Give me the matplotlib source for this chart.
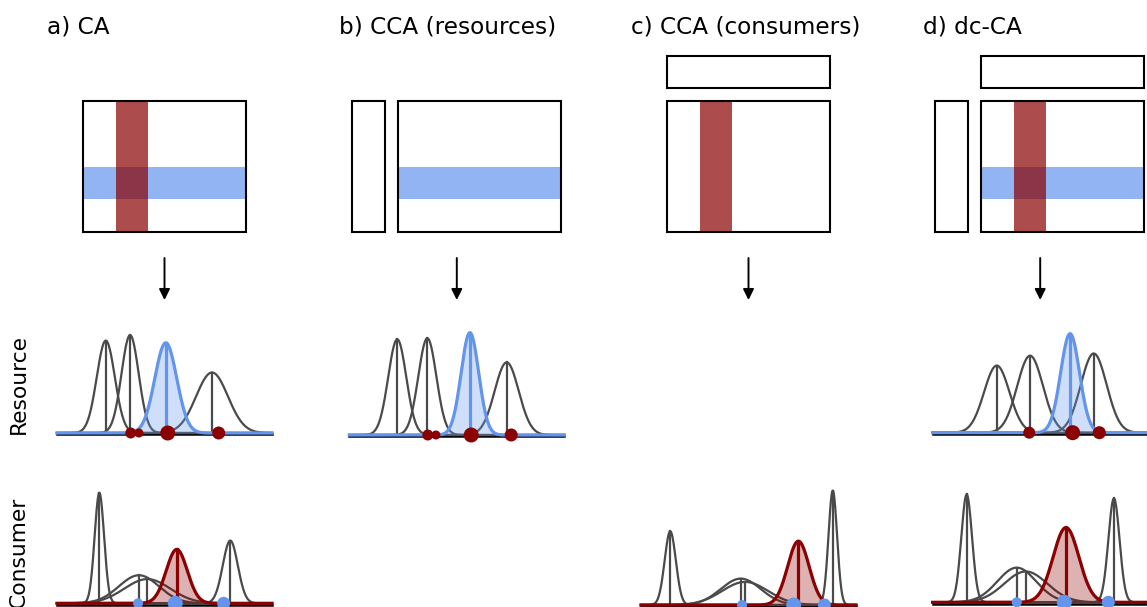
import numpy as np
import matplotlib
matplotlib.use('Agg')
import matplotlib.pyplot as plt
from matplotlib.patches import Rectangle

W, H = 1147, 607
RED = '#8b0000'
BLUE = '#6495ed'
GRAY = '#4a4a4a'

titles = ['a) CA', 'b) CCA (resources)', 'c) CCA (consumers)', 'd) dc-CA']

# resource row (panels a, b, d): gray niche curves, highlighted curve, site dots
res_cols = [0, 1, 3]
res_gray_mu = [[2.27, 3.40, 7.21], [2.23, 3.63, 7.32], [2.98, 4.53, 7.49]]
res_gray_sd = [[0.42, 0.40, 0.74], [0.42, 0.42, 0.56], [0.59, 0.60, 0.60]]
res_gray_h = [[0.84, 0.89, 0.55], [0.87, 0.88, 0.66], [0.61, 0.70, 0.72]]
res_hi_mu = [5.06, 5.61, 6.39]
res_hi_sd = [0.51, 0.41, 0.44]
res_hi_h = [0.82, 0.93, 0.90]
res_dot_x = [[3.43, 3.81, 5.15, 7.52], [3.65, 4.03, 5.67, 7.53], [4.49, 6.51, 7.75]]
res_dot_d = [[11, 9, 15, 13], [11, 9, 15, 13], [12, 15, 13]]

# consumer row (panels a, c, d)
con_cols = [0, 2, 3]
con_gray_mu = [[1.97, 3.81, 4.20, 8.06], [1.36, 4.64, 4.84, 8.92], [1.58, 3.91, 4.33, 8.43]]
con_gray_sd = [[0.22, 0.93, 1.07, 0.35], [0.26, 0.93, 1.07, 0.20], [0.25, 0.90, 1.00, 0.26]]
con_gray_h = [[1.005, 0.255, 0.22, 0.57], [0.67, 0.24, 0.21, 1.04], [0.98, 0.315, 0.28, 0.945]]
con_hi_mu = [5.57, 7.32, 6.20]
con_hi_sd = [0.49, 0.50, 0.60]
con_hi_h = [0.49, 0.58, 0.68]
con_dot_x = [[3.77, 5.50, 7.75], [4.70, 7.10, 8.53], [3.91, 6.12, 8.17]]
con_dot_d = [[10, 15, 13], [10, 15, 13], [10, 15, 13]]

# which matrix decorations each panel has: (side column, top row, red band, blue band)
mat_parts = [(False, False, True, True), (True, False, False, True),
             (False, True, True, False), (True, True, True, True)]

# layout in pixels
panel_left = [57, 349.3, 641, 932.7]
mat_left = [83, 398, 667, 981]
res_base = [433, 435, None, 432.7]
con_base = [603.3, None, 605, 602.3]
PW, PH = 215, 110

fig = plt.figure(figsize=(W / 100, H / 100), dpi=100)
ov = fig.add_axes([0, 0, 1, 1])
ov.set_xlim(0, W)
ov.set_ylim(H, 0)
ov.axis('off')

for i, t in enumerate(titles):
    ov.text(panel_left[i] - 10, 33, t, fontsize=16.7, ha='left', va='baseline')

    x0 = mat_left[i]
    side, top, red, blue = mat_parts[i]
    if blue:
        ov.add_patch(Rectangle((x0, 167), 163, 32, facecolor=BLUE, alpha=0.7, lw=0))
    if red:
        ov.add_patch(Rectangle((x0 + 33, 101), 32, 131, facecolor=RED, alpha=0.7, lw=0))
    ov.add_patch(Rectangle((x0, 101), 163, 131, fill=False, ec='k', lw=1.5))
    if side:
        ov.add_patch(Rectangle((x0 - 46, 101), 33, 131, fill=False, ec='k', lw=1.5))
    if top:
        ov.add_patch(Rectangle((x0, 56), 163, 32, fill=False, ec='k', lw=1.5))
    cx = panel_left[i] + PW / 2
    ov.annotate('', xy=(cx, 300), xytext=(cx, 258),
                arrowprops=dict(arrowstyle='-|>', color='k', lw=1.4,
                                mutation_scale=16, shrinkA=0, shrinkB=0))

ov.text(19, 384, 'Resource', rotation=90, fontsize=15.7, ha='center', va='center')
ov.text(19, 552, 'Consumer', rotation=90, fontsize=15.7, ha='center', va='center')

xs = np.linspace(0, 10, 600)


def gauss(mu, sd, h):
    return h * np.exp(-0.5 * ((xs - mu) / sd) ** 2)


def draw_row(cols, bases, g_mu, g_sd, g_h, h_mu, h_sd, h_h, d_x, d_d, hcol, dcol):
    for k, c in enumerate(cols):
        b = bases[c]
        ax = fig.add_axes([panel_left[c] / W, (H - b) / H, PW / W, PH / H])
        ax.set_xlim(0, 10)
        ax.set_ylim(0, 1)
        ax.axis('off')
        ax.patch.set_alpha(0)
        ax.axhline(-0.013, color='k', lw=1.8, clip_on=False, zorder=1)
        for mu, sd, h in zip(g_mu[k], g_sd[k], g_h[k]):
            ax.plot(xs, gauss(mu, sd, h), color=GRAY, lw=1.6, zorder=2, clip_on=False)
            ax.plot([mu, mu], [0, h], color=GRAY, lw=1.6, zorder=2, clip_on=False)
        y = gauss(h_mu[k], h_sd[k], h_h[k])
        ax.fill_between(xs, 0, y, color=hcol, alpha=0.3, lw=0, zorder=3)
        ax.plot(xs, y, color=hcol, lw=2.3, zorder=4, clip_on=False)
        ax.plot([h_mu[k], h_mu[k]], [0, h_h[k]], color=hcol, lw=2.3, zorder=4)
        ax.scatter(d_x[k], np.zeros(len(d_x[k])), s=(np.array(d_d[k]) * 0.72) ** 2,
                   color=dcol, lw=0, zorder=5, clip_on=False)


draw_row(res_cols, res_base, res_gray_mu, res_gray_sd, res_gray_h,
         res_hi_mu, res_hi_sd, res_hi_h, res_dot_x, res_dot_d, BLUE, RED)
draw_row(con_cols, con_base, con_gray_mu, con_gray_sd, con_gray_h,
         con_hi_mu, con_hi_sd, con_hi_h, con_dot_x, con_dot_d, RED, BLUE)

fig.savefig('out.png', dpi=100)
